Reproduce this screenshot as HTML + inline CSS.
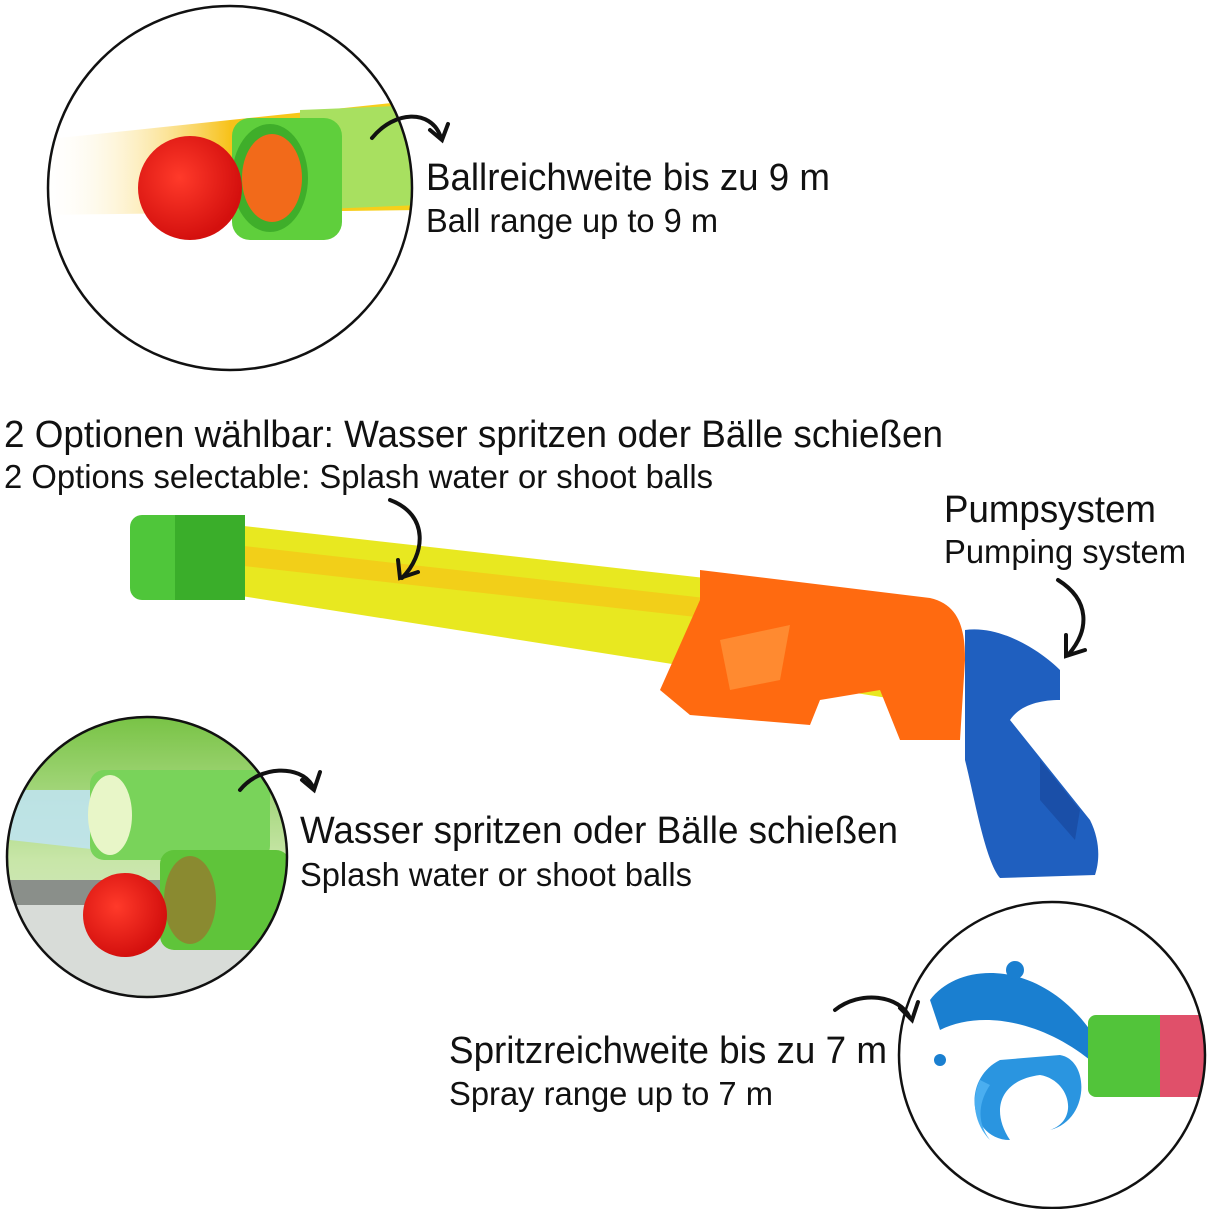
<!DOCTYPE html>
<html><head><meta charset="utf-8"><style>html,body{margin:0;padding:0;background:#fff}svg{display:block}</style></head><body>
<svg width="1209" height="1209" viewBox="0 0 1209 1209" xmlns="http://www.w3.org/2000/svg">
<defs>
<clipPath id="c1"><circle cx="230" cy="188" r="182"/></clipPath>
<clipPath id="c2"><circle cx="147" cy="857" r="140"/></clipPath>
<clipPath id="c3"><circle cx="1052" cy="1055" r="153"/></clipPath>
<radialGradient id="ball" cx="40%" cy="40%" r="60%"><stop offset="0" stop-color="#ff3a2a"/><stop offset="1" stop-color="#d4100e"/></radialGradient>
<linearGradient id="blur1" x1="0" x2="1"><stop offset="0" stop-color="#fff" stop-opacity="0"/><stop offset="0.5" stop-color="#f7c21a"/><stop offset="1" stop-color="#f7d21a"/></linearGradient>
<linearGradient id="bg2" x1="0" y1="0" x2="0" y2="1"><stop offset="0" stop-color="#6fbf3a"/><stop offset="0.5" stop-color="#c8e6a8"/><stop offset="1" stop-color="#dfe6e0"/></linearGradient>
</defs>

<!-- circle 1 -->
<g clip-path="url(#c1)">
<rect x="40" y="0" width="400" height="380" fill="#fff"/>
<polygon points="40,140 420,100 420,210 40,215" fill="url(#blur1)"/>
<polygon points="300,110 420,105 420,205 300,210" fill="#a8e060"/>
<rect x="232" y="118" width="110" height="122" rx="18" fill="#5fcf3c"/>
<ellipse cx="270" cy="178" rx="38" ry="54" fill="#3fae2a"/>
<ellipse cx="272" cy="178" rx="30" ry="44" fill="#f26a1a"/>
<circle cx="190" cy="188" r="52" fill="url(#ball)"/>
</g>
<circle cx="230" cy="188" r="182" fill="none" stroke="#111" stroke-width="2.5"/>

<!-- circle 2 -->
<g clip-path="url(#c2)">
<rect x="0" y="700" width="300" height="320" fill="url(#bg2)"/>
<rect x="0" y="880" width="300" height="40" fill="#8a8f8a"/>
<rect x="0" y="905" width="300" height="90" fill="#d8dcd8"/>
<polygon points="10,790 100,790 100,850 10,840" fill="#bfe3ee" opacity="0.9"/>
<rect x="90" y="770" width="180" height="90" rx="14" fill="#79d35a"/>
<ellipse cx="110" cy="815" rx="22" ry="40" fill="#e8f6c8"/>
<rect x="160" y="850" width="130" height="100" rx="14" fill="#5fc43a"/>
<ellipse cx="190" cy="900" rx="26" ry="44" fill="#8a8a30"/>
<circle cx="125" cy="915" r="42" fill="url(#ball)"/>
</g>
<circle cx="147" cy="857" r="140" fill="none" stroke="#111" stroke-width="2.5"/>

<!-- circle 3 -->
<g clip-path="url(#c3)">
<rect x="895" y="900" width="320" height="320" fill="#fff"/>
<path d="M930,1000 C960,960 1040,960 1090,1030 L1090,1060 C1040,1020 980,1010 940,1030 Z" fill="#1a7fd0"/>
<path d="M1000,1060 C960,1080 970,1140 1010,1140 C990,1110 1000,1080 1040,1075 C1070,1080 1080,1120 1050,1130 C1090,1120 1090,1060 1060,1055 Z" fill="#2a95e0"/>
<path d="M980,1080 C970,1100 975,1125 990,1140 C975,1120 980,1100 990,1085Z" fill="#4aaef0"/>
<circle cx="1015" cy="970" r="9" fill="#1a7fd0"/>
<circle cx="940" cy="1060" r="6" fill="#1a7fd0"/>
<rect x="1088" y="1015" width="80" height="82" rx="8" fill="#52c43a"/>
<rect x="1160" y="1015" width="50" height="82" fill="#e0506a"/>
</g>
<circle cx="1052" cy="1055" r="153" fill="none" stroke="#111" stroke-width="2.5"/>

<!-- gun barrel -->
<polygon points="235,525 900,600 900,700 235,595" fill="#e8e820"/>
<polygon points="235,545 900,620 900,640 235,565" fill="#f4c818" opacity="0.8"/>
<rect x="130" y="515" width="115" height="85" rx="12" fill="#4fc63a"/>
<rect x="175" y="515" width="70" height="85" fill="#3aae2a"/>
<!-- orange -->
<path d="M700,570 L930,598 C960,605 965,630 965,660 L960,740 L900,740 L880,690 L820,700 L810,725 L690,715 L660,690 L700,600 Z" fill="#ff6a10"/>
<polygon points="720,640 790,625 780,680 730,690" fill="#ff8a30"/>
<!-- blue handle -->
<path d="M965,630 C1000,625 1040,650 1060,670 L1060,700 C1040,700 1020,705 1010,720 L1090,820 C1100,840 1100,860 1095,875 L1000,878 C985,860 975,800 965,760 Z" fill="#1f5fbf"/>
<path d="M1040,760 L1080,810 L1075,840 L1040,800 Z" fill="#1a4fa8"/>

<!-- arrows -->
<g fill="none" stroke="#111" stroke-width="4" stroke-linecap="round">
<path d="M372,138 C395,110 430,110 440,135"/><path d="M430,130 L442,140 L448,124"/>
<path d="M390,500 C430,515 425,555 402,578"/><path d="M398,560 L400,578 L418,572"/>
<path d="M1058,580 C1090,600 1090,630 1068,655"/><path d="M1066,635 L1066,656 L1085,650"/>
<path d="M240,790 C260,765 300,765 312,785"/><path d="M302,780 L314,790 L320,772"/>
<path d="M835,1010 C860,990 900,995 910,1018"/><path d="M900,1008 L912,1020 L918,1002"/>
</g>

<g font-family="Liberation Sans, sans-serif" fill="#111">
<text x="426" y="190" font-size="38" textLength="404" lengthAdjust="spacingAndGlyphs">Ballreichweite bis zu 9 m</text>
<text x="426" y="232" font-size="33" textLength="292" lengthAdjust="spacingAndGlyphs">Ball range up to 9 m</text>
<text x="4" y="447" font-size="38" textLength="939" lengthAdjust="spacingAndGlyphs">2 Optionen wählbar: Wasser spritzen oder Bälle schießen</text>
<text x="4" y="488" font-size="33" textLength="709" lengthAdjust="spacingAndGlyphs">2 Options selectable: Splash water or shoot balls</text>
<text x="944" y="522" font-size="38" textLength="212" lengthAdjust="spacingAndGlyphs">Pumpsystem</text>
<text x="944" y="563" font-size="33" textLength="242" lengthAdjust="spacingAndGlyphs">Pumping system</text>
<text x="300" y="843" font-size="38" textLength="598" lengthAdjust="spacingAndGlyphs">Wasser spritzen oder Bälle schießen</text>
<text x="300" y="886" font-size="33" textLength="392" lengthAdjust="spacingAndGlyphs">Splash water or shoot balls</text>
<text x="449" y="1063" font-size="38" textLength="438" lengthAdjust="spacingAndGlyphs">Spritzreichweite bis zu 7 m</text>
<text x="449" y="1105" font-size="33" textLength="324" lengthAdjust="spacingAndGlyphs">Spray range up to 7 m</text>
</g>
</svg>
</body></html>
